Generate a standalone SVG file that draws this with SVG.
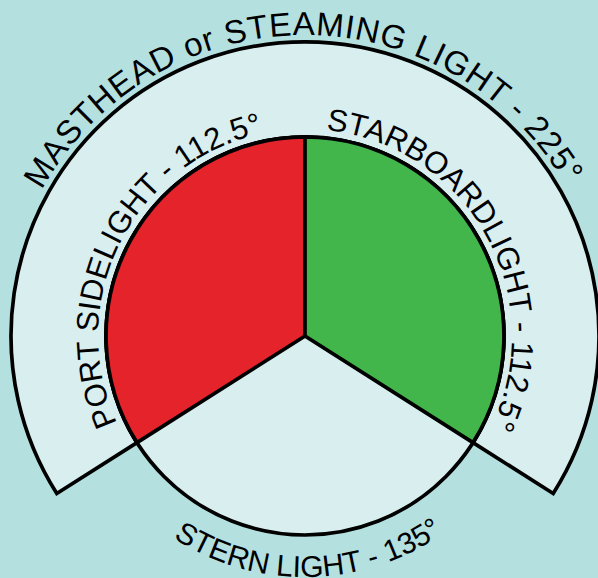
<svg xmlns="http://www.w3.org/2000/svg" width="598" height="578" viewBox="0 0 598 578">
<style>
.ln{stroke:#000;stroke-width:3.7;stroke-linejoin:miter}
.lbl{font-family:"Liberation Sans",Arial,Helvetica,sans-serif;font-size:31px;fill:#000}
</style>
<defs>
<path id="pOuter" d="M 4 336 A 301 301 0 0 1 606 336"/>
<path id="pPort" d="M 305 543 A 207 207 0 0 1 305 129"/>
<path id="pStar" d="M 305 129 A 207 207 0 0 1 305 543"/>
<path id="pStern" d="M 64 336 A 241 241 0 0 0 546 336"/>
</defs>
<rect width="598" height="578" fill="#b4e0e0"/>
<g id="masthead">
<path class="ln" fill="#d9eeef" d="M 56.8 493.5 A 294 294 0 1 1 553.2 493.5 L 473 442.6 A 199 199 0 1 0 137 442.6 Z"/>
<text class="lbl" style="font-size:33px;letter-spacing:0.85px"><textPath href="#pOuter" startOffset="49.7%" text-anchor="middle">MASTHEAD or STEAMING LIGHT - 225°</textPath></text>
</g>
<g id="stern">
<circle class="ln" cx="305" cy="336" r="199" fill="#d9eeef"/>
<text class="lbl" style="font-size:30px"><textPath href="#pStern" startOffset="50.5%" text-anchor="middle">STERN LIGHT - 135°</textPath></text>
</g>
<g id="port">
<path class="ln" fill="#e5232b" d="M 305 336 L 305 137 A 199 199 0 0 0 137 442.6 Z"/>
<text class="lbl"><textPath href="#pPort" startOffset="64.8%" text-anchor="middle">PORT SIDELIGHT - 112.5°</textPath></text>
</g>
<g id="starboard">
<path class="ln" fill="#42b54b" d="M 305 336 L 305 137 A 199 199 0 0 1 473 442.6 Z"/>
<text class="lbl"><textPath href="#pStar" startOffset="33.75%" text-anchor="middle">STARBOARDLIGHT - 112.5°</textPath></text>
</g>
<g id="connectors"/>
</svg>
